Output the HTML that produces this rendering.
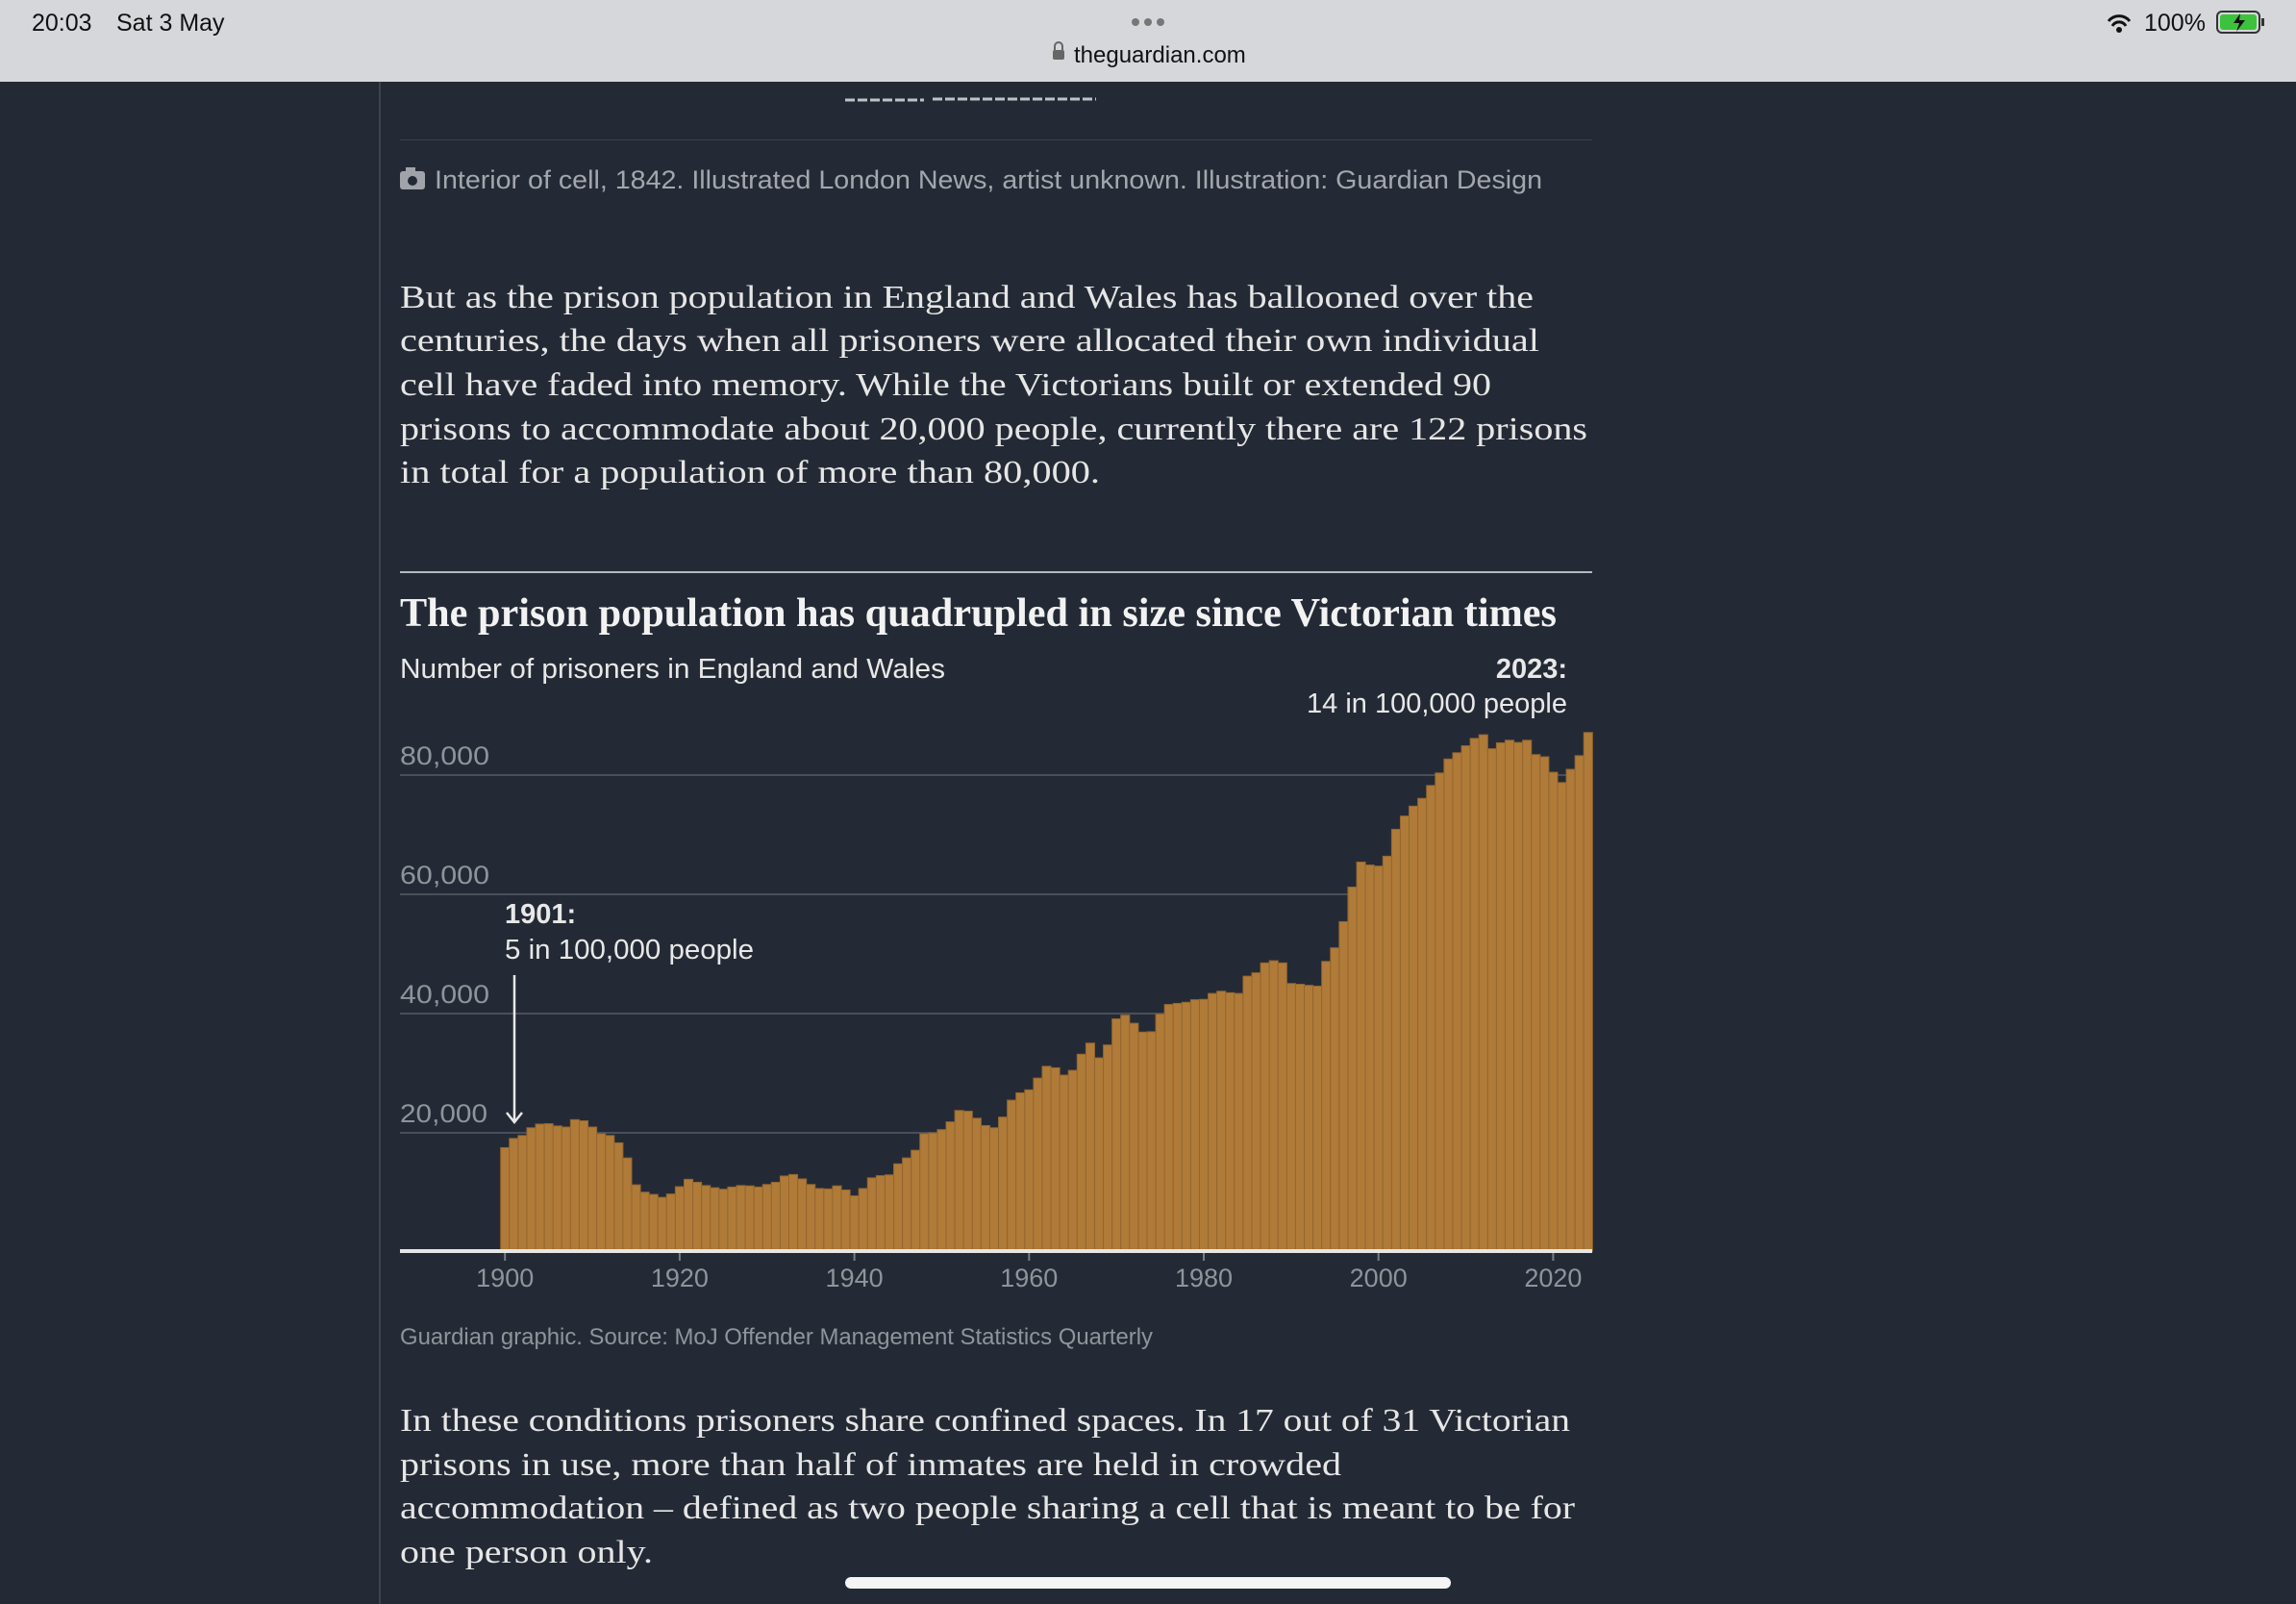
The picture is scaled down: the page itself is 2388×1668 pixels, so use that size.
<!DOCTYPE html>
<html><head><meta charset="utf-8"><style>
html,body{margin:0;padding:0;width:2388px;height:1668px;overflow:hidden;background:#242a35}
svg{display:block}
.sans{font-family:"Liberation Sans",sans-serif}
.serif{font-family:"Liberation Serif",serif}
</style></head><body>
<svg id="s" width="2388" height="1668" viewBox="0 0 2388 1668" xmlns="http://www.w3.org/2000/svg">
<rect width="2388" height="1668" fill="#242a35"/>
<!-- status bar -->
<rect width="2388" height="85" fill="#d6d7da"/>
<text class="sans" x="33" y="32" font-size="25" fill="#111">20:03</text>
<text class="sans" x="121" y="32" font-size="25" fill="#111">Sat 3 May</text>
<circle cx="1181" cy="23" r="4" fill="#777"/><circle cx="1194" cy="23" r="4" fill="#777"/><circle cx="1207" cy="23" r="4" fill="#777"/>
<rect x="1095" y="52" width="12" height="10" rx="2" fill="#666"/><path d="M1097 52v-4a4 4 0 0 1 8 0v4" stroke="#666" stroke-width="2" fill="none"/>
<text class="sans" x="1117" y="65" font-size="24" fill="#111">theguardian.com</text>
<path d="M2193 22 a14 14 0 0 1 22 0 M2197 27 a8 8 0 0 1 14 0" stroke="#111" stroke-width="3" fill="none"/><circle cx="2204" cy="31" r="3" fill="#111"/>
<text class="sans" x="2230" y="32" font-size="25" fill="#111">100%</text>
<rect x="2306" y="12" width="44" height="22" rx="5" fill="none" stroke="#333" stroke-width="2"/>
<rect x="2309" y="15" width="38" height="16" rx="3" fill="#3cc23c"/>
<rect x="2352" y="19" width="3" height="8" fill="#333"/>
<path d="M2330 14 l-7 10 h6 l-3 9 l9 -12 h-6 z" fill="#111"/>
<!-- left rule -->
<rect x="394" y="85" width="2" height="1583" fill="#3d434d"/>
<!-- top doodle and rule -->
<path d="M879 104 h82 M970 103 h170" stroke="#bfc3c8" stroke-width="3" stroke-dasharray="10 3"/>
<rect x="416" y="145" width="1240" height="1" fill="#3b414b"/>
<!-- caption -->
<rect x="416" y="178" width="26" height="19" rx="3" fill="#a0a4aa"/><circle cx="429" cy="188" r="5" fill="#242a35"/><rect x="422" y="174" width="10" height="5" fill="#a0a4aa"/>
<text class="sans" x="452" y="196" font-size="27" fill="#a3a7ad" textLength="1152" lengthAdjust="spacingAndGlyphs">Interior of cell, 1842. Illustrated London News, artist unknown. Illustration: Guardian Design</text>
<g class="serif" font-size="34" fill="#e6e6e6">
<text x="416" y="320" textLength="1179" lengthAdjust="spacingAndGlyphs">But as the prison population in England and Wales has ballooned over the</text>
<text x="416" y="365" textLength="1185" lengthAdjust="spacingAndGlyphs">centuries, the days when all prisoners were allocated their own individual</text>
<text x="416" y="411" textLength="1135" lengthAdjust="spacingAndGlyphs">cell have faded into memory. While the Victorians built or extended 90</text>
<text x="416" y="457" textLength="1235" lengthAdjust="spacingAndGlyphs">prisons to accommodate about 20,000 people, currently there are 122 prisons</text>
<text x="416" y="502" textLength="728" lengthAdjust="spacingAndGlyphs">in total for a population of more than 80,000.</text>
</g>
<rect x="416" y="594" width="1240" height="2" fill="#b5b8bd"/>
<text class="serif" x="416" y="651" font-size="42" font-weight="bold" fill="#f2f2f2" textLength="1203" lengthAdjust="spacingAndGlyphs">The prison population has quadrupled in size since Victorian times</text>
<text class="sans" x="416" y="705" font-size="29" fill="#e8e8e8" textLength="567" lengthAdjust="spacingAndGlyphs">Number of prisoners in England and Wales</text>
<text class="sans" x="1630" y="705" font-size="29" font-weight="bold" fill="#e8e8e8" text-anchor="end">2023:</text>
<text class="sans" x="1359" y="741" font-size="29" fill="#e8e8e8" textLength="271" lengthAdjust="spacingAndGlyphs">14 in 100,000 people</text>
<!-- gridlines -->
<g fill="#4a4f57">
<rect x="416" y="805" width="1240" height="2"/>
<rect x="416" y="929" width="1240" height="2"/>
<rect x="416" y="1053" width="1240" height="2"/>
<rect x="416" y="1177" width="1240" height="2"/>
</g>
<g class="sans" font-size="27" fill="#8f949b">
<text x="416" y="795" textLength="93" lengthAdjust="spacingAndGlyphs">80,000</text>
<text x="416" y="919" textLength="93" lengthAdjust="spacingAndGlyphs">60,000</text>
<text x="416" y="1043" textLength="93" lengthAdjust="spacingAndGlyphs">40,000</text>
<text x="416" y="1167" textLength="91" lengthAdjust="spacingAndGlyphs">20,000</text>
</g>
<g id="bars"></g>
<rect x="416" y="1299" width="1240" height="4" fill="#e6e6e6"/>
<g id="ticks"></g>
<!-- annotation -->
<text class="sans" x="525" y="960" font-size="29" font-weight="bold" fill="#e8e8e8">1901:</text>
<text class="sans" x="525" y="997" font-size="29" fill="#e8e8e8" textLength="259" lengthAdjust="spacingAndGlyphs">5 in 100,000 people</text>
<path d="M535 1014 V1167 M527 1157 L535 1167 L543 1157" stroke="#e8e8e8" stroke-width="2.5" fill="none"/>
<text class="sans" x="416" y="1398" font-size="24" fill="#8f949b" textLength="783" lengthAdjust="spacingAndGlyphs">Guardian graphic. Source: MoJ Offender Management Statistics Quarterly</text>
<g class="serif" font-size="34" fill="#e6e6e6">
<text x="416" y="1488" textLength="1217" lengthAdjust="spacingAndGlyphs">In these conditions prisoners share confined spaces. In 17 out of 31 Victorian</text>
<text x="416" y="1534" textLength="979" lengthAdjust="spacingAndGlyphs">prisons in use, more than half of inmates are held in crowded</text>
<text x="416" y="1579" textLength="1222" lengthAdjust="spacingAndGlyphs">accommodation – defined as two people sharing a cell that is meant to be for</text>
<text x="416" y="1625" textLength="263" lengthAdjust="spacingAndGlyphs">one person only.</text>
</g>
<rect x="879" y="1640" width="630" height="12" rx="6" fill="#f5f5f5"/>
</svg>
<script>
var v=[17345,18890,19380,20680,21300,21360,20990,20800,22040,21850,20800,19690,19380,18150,15620,11110,9880,9500,9010,9570,10800,12040,11540,10990,10620,10370,10740,10990,10930,10740,11170,11540,12590,12840,12100,11170,10490,10430,10930,10250,9260,10490,12280,12650,12780,14630,15620,16910,19690,19810,20370,21670,23580,23460,22280,21050,20680,22470,25310,26540,27040,29010,30990,30740,29510,30310,33020,34880,32410,34570,38950,39570,38210,36730,36790,39750,41360,41540,41730,42160,42220,43210,43580,43330,43210,46110,46670,48330,48700,48330,44880,44750,44570,44440,48580,50860,55250,61050,65250,64750,64570,66230,70740,72960,74630,75930,78090,80190,82530,83580,84750,85990,86600,84260,85250,85680,85310,85680,83270,82900,80310,78580,80800,83090,86980];
var NS="http://www.w3.org/2000/svg",b=document.getElementById("bars"),t=document.getElementById("ticks"),w=9.085,x0=520.7,base=1301;
v.forEach(function(d,i){var r=document.createElementNS(NS,"rect");var h=d*0.0062;r.setAttribute("x",x0+i*w);r.setAttribute("y",base-h);r.setAttribute("width",w);r.setAttribute("height",h);r.setAttribute("fill","#b07b38");r.setAttribute("stroke","#946630");r.setAttribute("stroke-width","1");b.appendChild(r);});
for(var y=1900;y<=2020;y+=20){var cx=x0+(y-1900)*w+4.5;var l=document.createElementNS(NS,"rect");l.setAttribute("x",cx-1);l.setAttribute("y",1303);l.setAttribute("width",2);l.setAttribute("height",8);l.setAttribute("fill","#777c84");t.appendChild(l);
var tx=document.createElementNS(NS,"text");tx.setAttribute("x",cx);tx.setAttribute("y",1338);tx.setAttribute("text-anchor","middle");tx.setAttribute("font-size","27");tx.setAttribute("fill","#8f949b");tx.setAttribute("font-family","Liberation Sans, sans-serif");tx.textContent=y;t.appendChild(tx);}
</script>
</body></html>
